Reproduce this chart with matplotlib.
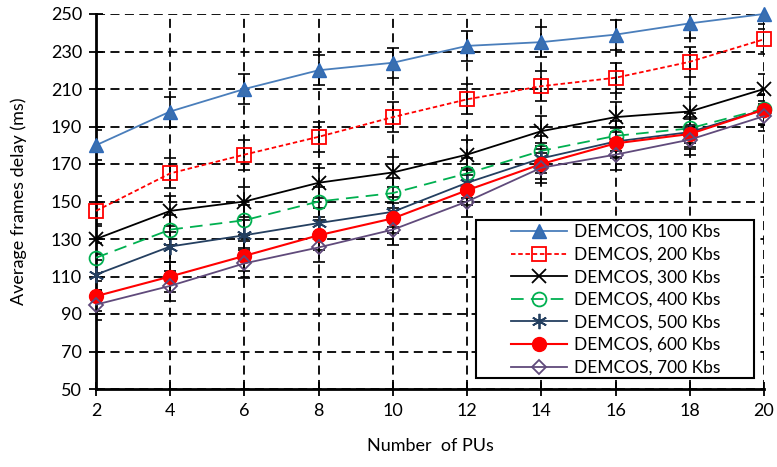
import matplotlib
matplotlib.use("Agg")
import matplotlib.pyplot as plt
from matplotlib.patches import Rectangle

plt.rcParams['font.family'] = ['Lato', 'DejaVu Sans']

x = [2, 4, 6, 8, 10, 12, 14, 16, 18, 20]
s100 = [180, 198, 210, 220, 224, 233, 235, 239, 245, 250]
s200 = [145, 165, 175, 184.5, 195, 204.5, 211.5, 216, 224.5, 236.5]
s300 = [130, 145, 150, 160, 165.5, 175, 187.5, 195, 198, 210]
s400 = [120, 135, 140, 150, 154.5, 165, 177, 185, 189, 199.5]
s500 = [111, 126, 132, 138.5, 144.5, 160, 173, 182, 187, 199]
s600 = [99.5, 110, 121, 132, 141, 156, 170, 181, 186, 199]
s700 = [95, 105, 117, 125.5, 135, 150, 168, 175, 183, 195.5]
err = 8

labels = ['DEMCOS, 100 Kbs', 'DEMCOS, 200 Kbs', 'DEMCOS, 300 Kbs', 'DEMCOS, 400 Kbs',
          'DEMCOS, 500 Kbs', 'DEMCOS, 600 Kbs', 'DEMCOS, 700 Kbs']
yticks = [50, 70, 90, 110, 130, 150, 170, 190, 210, 230, 250]

fig = plt.figure(figsize=(7.77, 4.67), dpi=100)
ax = fig.add_axes([96/777, 1-389/467, 668/777, 375/467])

styles = [
    dict(color='#4A7EBB', ls='-', marker='^', mfc='#3A6FB0', mec='#2E6AB8', ms=10.5, lw=1.3),
    dict(color='#FF0000', ls=(0, (2.5, 1.5)), marker='s', mfc='none', mec='#FF0000', ms=10, lw=1.3, mew=1.3),
    dict(color='black', ls='-', marker='x', mfc='none', mec='black', ms=10, lw=1.3, mew=1.3),
    dict(color='#00B050', ls=(0, (7, 4)), marker='o', mfc='none', mec='#00B050', ms=10, lw=1.3, mew=1.3),
    dict(color='#243F60', ls='-', marker=(6, 2, 0), mfc='none', mec='#243F60', ms=11, lw=1.3, mew=1.3),
    dict(color='#FF0000', ls='-', marker='o', mfc='#FF0000', mec='#FF0000', ms=10, lw=1.5),
    dict(color='#604A7B', ls='-', marker='D', mfc='none', mec='#604A7B', ms=7.5, lw=1.3, mew=1.3),
]
series = [s100, s200, s300, s400, s500, s600, s700]

for ys in series:
    ax.errorbar(x, ys, yerr=err, fmt='none', ecolor='black', elinewidth=1.2,
                capsize=4, capthick=1.2, zorder=2)
handles = []
for ys, lab, st in zip(series, labels, styles):
    h, = ax.plot(x, ys, label=lab, zorder=3, clip_on=False, **st)
    handles.append(h)

ax.set_xlim(2, 20)
ax.set_ylim(50, 250)
ax.set_xticks(x)
ax.set_yticks(yticks)
ax.grid(True, color='black', ls=(0, (5, 3)), lw=1.3)
ax.set_axisbelow(True)
for sp in ['top', 'right']:
    ax.spines[sp].set_visible(False)
for sp in ['left', 'bottom']:
    ax.spines[sp].set_linewidth(2)
ax.tick_params(direction='inout', length=10, width=1.3, labelsize=13, colors='black', pad=5)
ax.set_xlabel('Number  of PUs', fontsize=13)
ax.set_ylabel('Average frames delay (ms)', fontsize=13)
ax.xaxis.set_label_coords(0.5, -(438 - 389) / 375)
ax.yaxis.set_label_coords((27 - 96) / 668, 0.5)

# legend box (Excel-style wide padding)
box = Rectangle(((476 - 96) / 668, (389 - 378) / 375), (754 - 476) / 668, (378 - 220) / 375,
                transform=ax.transAxes, facecolor='white', edgecolor='black', lw=1.5,
                zorder=4, clip_on=False)
ax.add_patch(box)
leg = ax.legend(handles=handles, loc='upper left',
                bbox_to_anchor=((511 - 96) / 668, (389 - 224) / 375),
                fontsize=12.5, frameon=False, handlelength=3.2, labelspacing=0.38,
                borderpad=0, borderaxespad=0, handletextpad=0.4)
leg.set_zorder(5)

fig.savefig('out.png', dpi=100)
